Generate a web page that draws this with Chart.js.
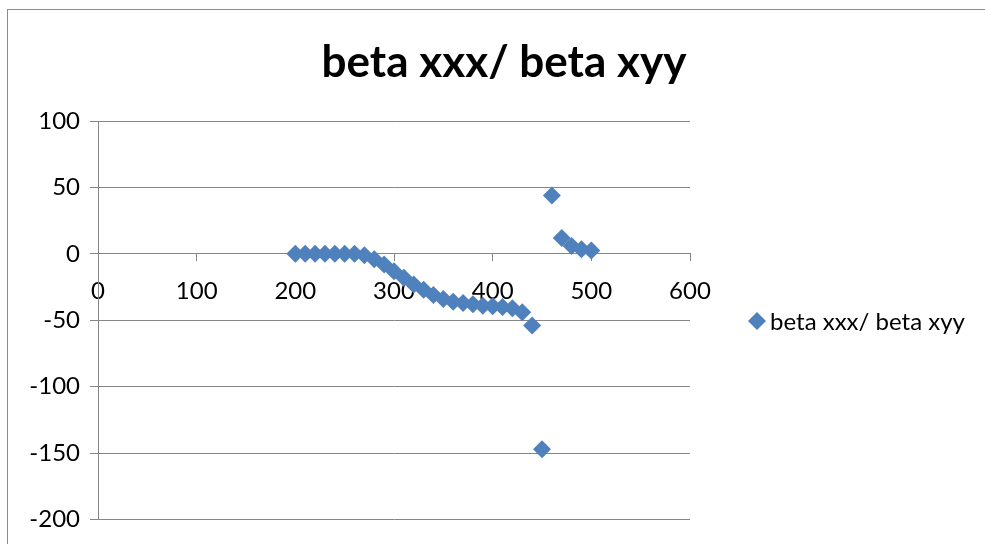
<!DOCTYPE html>
<html>
<head>
<meta charset="utf-8">
<script src="https://cdn.jsdelivr.net/npm/chart.js@4.4.0/dist/chart.umd.min.js"></script>
<style>
  html, body { margin: 0; padding: 0; background: #fff; overflow: hidden; }
  #frame { position: absolute; left: 7px; top: 9px; width: 1000px; height: 560px; border: 1px solid #8c8c8c; }
  #wrap { position: absolute; left: 0; top: 0; width: 985px; height: 544px; }
</style>
</head>
<body>
<div id="frame"></div>
<div id="wrap"><canvas id="scatterChart" width="985" height="544"></canvas></div>
<script>
// beta xxx / beta xyy ratio against wavelength
const wavelengths = [200, 210, 220, 230, 240, 250, 260, 270, 280, 290, 300, 310, 320, 330, 340,
  350, 360, 370, 380, 390, 400, 410, 420, 430, 440, 450, 460, 470, 480, 490, 500];
const ratioValues = [0, 0, 0, 0, 0, 0, 0, -1, -4, -8, -13, -18, -23, -27, -31,
  -34, -36, -37, -38, -39, -39.5, -40, -41, -44, -54, -147, 44, 12, 6, 3.5, 2.5];
const xTicks = [0, 100, 200, 300, 400, 500, 600];
const yTicks = [-200, -150, -100, -50, 0, 50, 100];
const seriesName = "beta xxx/ beta xyy";
const chartTitle = "beta xxx/ beta xyy";

const markerColor = "#4F81BD";
const gridColor = "#868686";
const fontFamily = "Lato, 'Open Sans', sans-serif";

// title and right-hand legend, drawn by hand so they sit where Excel puts them
const titleLegendPlugin = {
  id: "titleLegend",
  afterDraw(chart) {
    const c = chart.ctx;
    c.save();
    c.fillStyle = "#000";
    c.font = "bold 44px " + fontFamily;
    c.textAlign = "center";
    c.textBaseline = "middle";
    c.fillText(chartTitle, 504, 63);

    // legend marker
    const mx = 757, my = 321, r = 9;
    c.fillStyle = markerColor;
    c.beginPath();
    c.moveTo(mx, my - r);
    c.lineTo(mx + r, my);
    c.lineTo(mx, my + r);
    c.lineTo(mx - r, my);
    c.closePath();
    c.fill();

    c.fillStyle = "#000";
    c.font = "24px " + fontFamily;
    c.textAlign = "left";
    c.fillText(seriesName, 770, 322);
    c.restore();
  },
};

function scatterChart() {
  const ctx = document.getElementById("scatterChart");
  if (!ctx) return;

  const points = wavelengths.map((x, i) => ({ x: x, y: ratioValues[i] }));

  const myChart = new Chart(ctx, {
    type: "scatter",
    data: {
      datasets: [
        {
          label: seriesName,
          data: points,
          pointStyle: "rectRot",
          pointRadius: 9,
          pointHoverRadius: 9,
          backgroundColor: markerColor,
          borderColor: markerColor,
          borderWidth: 0,
        },
      ],
    },
    options: {
      responsive: false,
      animation: false,
      layout: {
        padding: { left: 0, top: 121, right: 295, bottom: 24 },
      },
      plugins: {
        legend: { display: false },
        tooltip: { enabled: false },
        title: { display: false },
      },
      scales: {
        x: {
          type: "linear",
          position: { y: 0 },
          min: 0,
          max: 600,
          afterBuildTicks: (scale) => {
            scale.ticks = xTicks.map((v) => ({ value: v }));
          },
          grid: {
            drawOnChartArea: false,
            drawTicks: true,
            tickLength: 7,
            color: gridColor,
          },
          border: { display: true, color: gridColor, width: 1 },
          ticks: {
            color: "#000",
            padding: 16,
            maxRotation: 0,
            font: { family: fontFamily, size: 24 },
          },
        },
        y: {
          min: -200,
          max: 100,
          afterBuildTicks: (scale) => {
            scale.ticks = yTicks.map((v) => ({ value: v }));
          },
          afterFit: (scale) => {
            scale.width = 98;
          },
          grid: {
            drawOnChartArea: true,
            drawTicks: true,
            tickLength: 8,
            color: gridColor,
            lineWidth: 1,
          },
          border: { display: true, color: gridColor, width: 1 },
          ticks: {
            color: "#000",
            padding: 10,
            font: { family: fontFamily, size: 24 },
          },
        },
      },
    },
    plugins: [titleLegendPlugin],
  });
}

scatterChart();
</script>
</body>
</html>
